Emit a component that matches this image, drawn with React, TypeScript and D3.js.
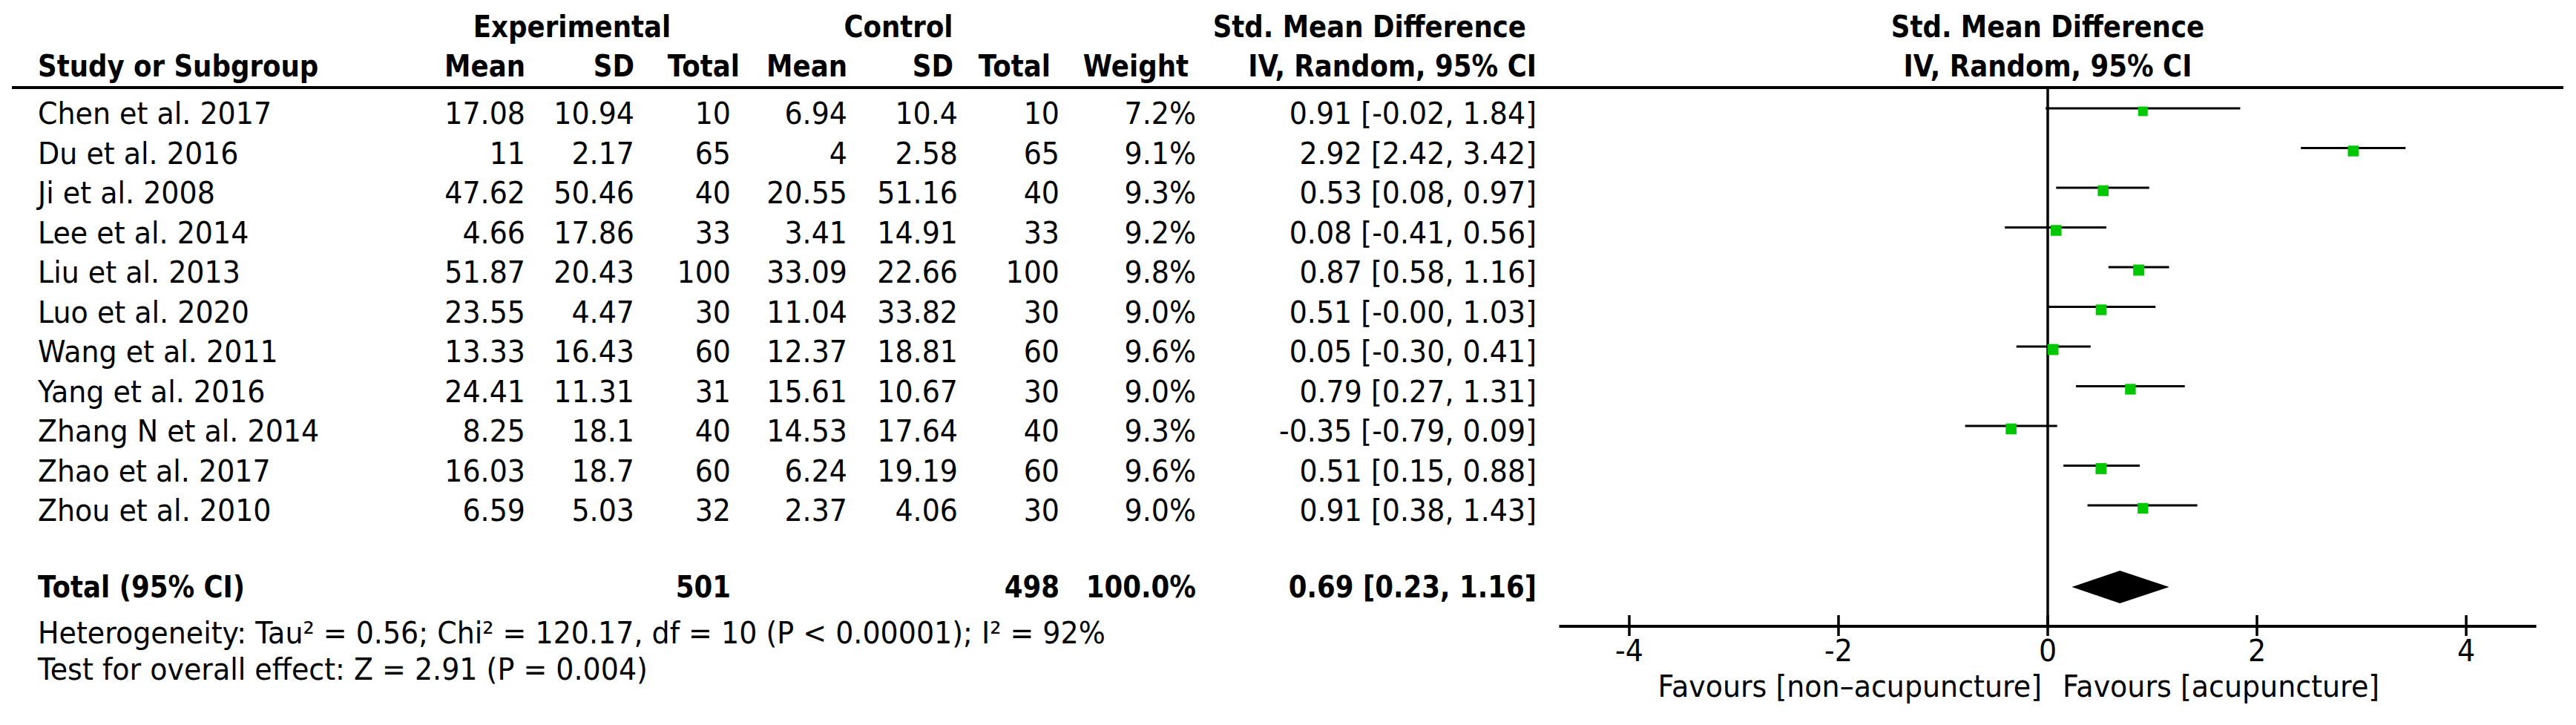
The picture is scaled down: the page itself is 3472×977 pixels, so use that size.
import * as d3 from 'd3';

// ---- data ----
const studies = [
  'Chen et al. 2017', 'Du et al. 2016', 'Ji et al. 2008', 'Lee et al. 2014', 'Liu et al. 2013',
  'Luo et al. 2020', 'Wang et al. 2011', 'Yang et al. 2016', 'Zhang N et al. 2014',
  'Zhao et al. 2017', 'Zhou et al. 2010',
];
const expMean = [17.08, 11, 47.62, 4.66, 51.87, 23.55, 13.33, 24.41, 8.25, 16.03, 6.59];
const expSD = [10.94, 2.17, 50.46, 17.86, 20.43, 4.47, 16.43, 11.31, 18.1, 18.7, 5.03];
const expTotal = [10, 65, 40, 33, 100, 30, 60, 31, 40, 60, 32];
const ctrlMean = [6.94, 4, 20.55, 3.41, 33.09, 11.04, 12.37, 15.61, 14.53, 6.24, 2.37];
const ctrlSD = [10.4, 2.58, 51.16, 14.91, 22.66, 33.82, 18.81, 10.67, 17.64, 19.19, 4.06];
const ctrlTotal = [10, 65, 40, 33, 100, 30, 60, 30, 40, 60, 30];
const weight = [7.2, 9.1, 9.3, 9.2, 9.8, 9.0, 9.6, 9.0, 9.3, 9.6, 9.0];
const smd = [0.91, 2.92, 0.53, 0.08, 0.87, 0.51, 0.05, 0.79, -0.35, 0.51, 0.91];
const lower = [-0.02, 2.42, 0.08, -0.41, 0.58, -0, -0.3, 0.27, -0.79, 0.15, 0.38];
const upper = [1.84, 3.42, 0.97, 0.56, 1.16, 1.03, 0.41, 1.31, 0.09, 0.88, 1.43];

const pooled = { est: 0.69, lo: 0.23, hi: 1.16 };
const totalWeight = 100.0;
const axisTicks = [-4, -2, 0, 2, 4];
const axisExtent = 4.67;
const heterogeneity = 'Heterogeneity: Tau\u00b2 = 0.56; Chi\u00b2 = 120.17, df = 10 (P < 0.00001); I\u00b2 = 92%';
const overallEffect = 'Test for overall effect: Z = 2.91 (P = 0.004)';
const favoursLeft = 'Favours [non\u2013acupuncture]';
const favoursRight = 'Favours [acupuncture]';

// ---- layout ----
const W = 3472;
const H = 977;
const FONT = '"DejaVu Sans", Verdana, sans-serif';
const FS = 40;
const REG_SX = 0.95;
const BOLD_SX = 0.89;

const col = {
  name: 51,
  expMean: 708,
  expSD: 855,
  expTotal: 985,
  ctrlMean: 1142,
  ctrlSD: 1291,
  ctrlTotal: 1428,
  weight: 1612,
  ci: 2071,
};

const fmt2 = (v: number) => (v < 0 || Object.is(v, -0) ? '-' : '') + Math.abs(v).toFixed(2);
const ciLabel = (e: number, l: number, u: number) => `${fmt2(e)} [${fmt2(l)}, ${fmt2(u)}]`;

type TxtProps = {
  x: number;
  y: number;
  anchor?: 'start' | 'middle' | 'end';
  bold?: boolean;
  children: any;
};

const Txt = ({ x, y, anchor = 'start', bold = false, children }: TxtProps) => (
  <text
    transform={`translate(${x},${y}) scale(${bold ? BOLD_SX : REG_SX},1)`}
    textAnchor={anchor}
    fontFamily={FONT}
    fontSize={FS}
    fontWeight={bold ? 'bold' : 'normal'}
    fill="#000"
  >
    {children}
  </text>
);

export default function App() {
  // row baselines
  const yRow = d3.scaleLinear().domain([0, studies.length - 1]).range([167, 702]);
  const totalY = 805;
  const hetY = 867;
  const testY = 916;
  const ruleY = 118;
  const axisY = 844;

  const x = d3.scaleLinear().domain([-4, 4]).range([2196, 3324]);
  const sq = d3.scaleSqrt().domain([0, d3.max(weight) as number]).range([0, 15]);

  const diamondY = totalY - 14;
  const diamond = d3.line()([
    [x(pooled.lo), diamondY],
    [x(pooled.est), diamondY - 22],
    [x(pooled.hi), diamondY],
    [x(pooled.est), diamondY + 22],
  ]) + 'Z';

  const h1 = 50;
  const h2 = 103;

  return (
    <svg
      width={W}
      height={H}
      viewBox={`0 0 ${W} ${H}`}
      style={{ position: 'absolute', left: 0, top: 0, background: '#fff' }}
    >
      <rect width={W} height={H} fill="#fff" />

      {/* header */}
      <Txt x={771} y={h1} anchor="middle" bold>Experimental</Txt>
      <Txt x={1211} y={h1} anchor="middle" bold>Control</Txt>
      <Txt x={col.ci - 14} y={h1} anchor="end" bold>Std. Mean Difference</Txt>
      <Txt x={x(0)} y={h1} anchor="middle" bold>Std. Mean Difference</Txt>

      <Txt x={col.name} y={h2} bold>Study or Subgroup</Txt>
      <Txt x={col.expMean} y={h2} anchor="end" bold>Mean</Txt>
      <Txt x={col.expSD} y={h2} anchor="end" bold>SD</Txt>
      <Txt x={col.expTotal + 12} y={h2} anchor="end" bold>Total</Txt>
      <Txt x={col.ctrlMean} y={h2} anchor="end" bold>Mean</Txt>
      <Txt x={col.ctrlSD - 6} y={h2} anchor="end" bold>SD</Txt>
      <Txt x={col.ctrlTotal - 12} y={h2} anchor="end" bold>Total</Txt>
      <Txt x={col.weight - 10} y={h2} anchor="end" bold>Weight</Txt>
      <Txt x={col.ci} y={h2} anchor="end" bold>IV, Random, 95% CI</Txt>
      <Txt x={x(0)} y={h2} anchor="middle" bold>IV, Random, 95% CI</Txt>

      <line x1={16} x2={3455} y1={ruleY} y2={ruleY} stroke="#000" strokeWidth={4} />

      {/* study rows */}
      {studies.map((s, i) => {
        const y = yRow(i);
        return (
          <g key={s}>
            <Txt x={col.name} y={y}>{s}</Txt>
            <Txt x={col.expMean} y={y} anchor="end">{String(expMean[i])}</Txt>
            <Txt x={col.expSD} y={y} anchor="end">{String(expSD[i])}</Txt>
            <Txt x={col.expTotal} y={y} anchor="end">{String(expTotal[i])}</Txt>
            <Txt x={col.ctrlMean} y={y} anchor="end">{String(ctrlMean[i])}</Txt>
            <Txt x={col.ctrlSD} y={y} anchor="end">{String(ctrlSD[i])}</Txt>
            <Txt x={col.ctrlTotal} y={y} anchor="end">{String(ctrlTotal[i])}</Txt>
            <Txt x={col.weight} y={y} anchor="end">{weight[i].toFixed(1) + '%'}</Txt>
            <Txt x={col.ci} y={y} anchor="end">{ciLabel(smd[i], lower[i], upper[i])}</Txt>
          </g>
        );
      })}

      {/* total row */}
      <Txt x={col.name} y={totalY} bold>Total (95% CI)</Txt>
      <Txt x={col.expTotal} y={totalY} anchor="end" bold>{String(d3.sum(expTotal))}</Txt>
      <Txt x={col.ctrlTotal} y={totalY} anchor="end" bold>{String(d3.sum(ctrlTotal))}</Txt>
      <Txt x={col.weight} y={totalY} anchor="end" bold>{totalWeight.toFixed(1) + '%'}</Txt>
      <Txt x={col.ci} y={totalY} anchor="end" bold>{ciLabel(pooled.est, pooled.lo, pooled.hi)}</Txt>

      <Txt x={col.name} y={hetY}>{heterogeneity}</Txt>
      <Txt x={col.name} y={testY}>{overallEffect}</Txt>

      {/* forest plot */}
      <line x1={x(0)} x2={x(0)} y1={ruleY} y2={axisY} stroke="#000" strokeWidth={3.5} />
      {studies.map((s, i) => {
        const yl = yRow(i) - 21;
        const size = sq(weight[i]);
        return (
          <g key={'ci' + s}>
            <line x1={x(lower[i])} x2={x(upper[i])} y1={yl} y2={yl} stroke="#000" strokeWidth={3} />
            <rect
              x={x(smd[i]) - size / 2}
              y={yl + 4 - size / 2}
              width={size}
              height={size}
              fill="#00c800"
            />
          </g>
        );
      })}
      <path d={diamond} fill="#000" />

      {/* axis */}
      <line x1={x(-axisExtent)} x2={x(axisExtent)} y1={axisY} y2={axisY} stroke="#000" strokeWidth={4} />
      {axisTicks.map((t) => (
        <g key={t}>
          <line x1={x(t)} x2={x(t)} y1={axisY - 15} y2={axisY + 13} stroke="#000" strokeWidth={3.5} />
          <Txt x={x(t)} y={891} anchor="middle">{t < 0 ? '-' + Math.abs(t) : String(t)}</Txt>
        </g>
      ))}
      <Txt x={x(0) - 8} y={939} anchor="end">{favoursLeft}</Txt>
      <Txt x={x(0) + 20} y={939}>{favoursRight}</Txt>
    </svg>
  );
}
